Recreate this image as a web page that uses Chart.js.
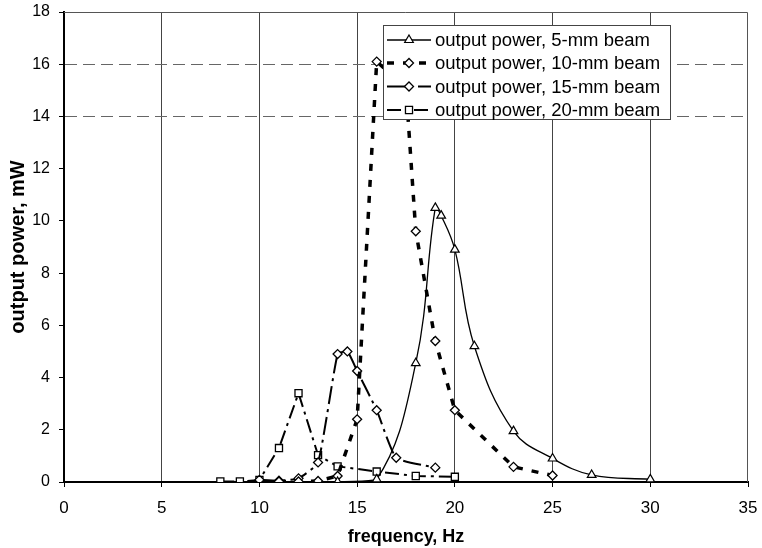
<!DOCTYPE html>
<html><head><meta charset="utf-8">
<script src="https://cdn.jsdelivr.net/npm/chart.js@4/dist/chart.umd.min.js"></script>
<style>html,body{margin:0;padding:0;background:#fff}#wrap{position:relative;width:762px;height:548px}</style>
</head><body><div id="wrap"><canvas id="c" width="762" height="548"></canvas></div>
<script>
const seriesNames = ['output power, 5-mm beam','output power, 10-mm beam','output power, 15-mm beam','output power, 20-mm beam'];
const freq5 = [14,16,18,19,19.3,20,21,23,25,27,30];
const power5 = [0,0.1,4.55,10.5,10.2,8.9,5.2,1.95,0.9,0.27,0.1];
const freq10 = [11,12,13,14,15,16,17.5,18,19,20,23,25];
const power10 = [0.02,0.02,0.04,0.23,2.4,16.1,15.1,9.6,5.4,2.75,0.58,0.25];
const freq15 = [10,11,12,13,14,14.5,15,16,17,19];
const power15 = [0.08,0.05,0.14,0.75,4.9,5.0,4.25,2.75,0.93,0.55];
const freq20 = [8,9,10,11,12,13,14,16,18,20];
const power20 = [0.02,0.02,0.08,1.3,3.4,1.03,0.6,0.4,0.23,0.2];
const xTicks = [0,5,10,15,20,25,30,35];
const yTicks = [0,2,4,6,8,10,12,14,16,18];

const pts = (xs, ys) => xs.map((x,i)=>({x, y: ys[i]}));
const FONT = "'Liberation Sans', Arial, sans-serif";

const datasets = [
  {label: seriesNames[0], data: pts(freq5,power5), borderColor:'#000', borderWidth:1.3, tension:0.4,
   pointStyle:'triangle', pointRadius:5, pointBackgroundColor:'#fff', pointBorderColor:'#000', pointBorderWidth:1.2, borderDash:[]},
  {label: seriesNames[1], data: pts(freq10,power10), borderColor:'#000', borderWidth:3.5, tension:0, borderDash:[7,9],
   pointStyle:'rectRot', pointRadius:4.5, pointBackgroundColor:'#fff', pointBorderColor:'#000', pointBorderWidth:1.3},
  {label: seriesNames[2], data: pts(freq15,power15), borderColor:'#000', borderWidth:2, tension:0.15, borderDash:[18,5,3,5],
   pointStyle:'rectRot', pointRadius:4.5, pointBackgroundColor:'#fff', pointBorderColor:'#000', pointBorderWidth:1.3},
  {label: seriesNames[3], data: pts(freq20,power20), borderColor:'#000', borderWidth:2, tension:0, borderDash:[14,5,3,5],
   pointStyle:'rect', pointRadius:5, pointBackgroundColor:'#fff', pointBorderColor:'#000', pointBorderWidth:1.3}
];

const frame = {
  id:'frame',
  beforeDatasetsDraw(chart){
    const {ctx, chartArea:a} = chart;
    ctx.save();
    ctx.strokeStyle='#555'; ctx.lineWidth=1;
    ctx.beginPath();
    ctx.moveTo(a.left, a.top+0.5); ctx.lineTo(a.right-0.5, a.top+0.5); ctx.lineTo(a.right-0.5, a.bottom);
    ctx.stroke();
    ctx.restore();
  },
  afterDatasetsDraw(chart){
    const ctx = chart.ctx;
    const L=383, T=25, R=670, B=119;
    ctx.save();
    ctx.fillStyle='#fff'; ctx.fillRect(L,T,R-L,B-T);
    ctx.strokeStyle='#444'; ctx.lineWidth=1; ctx.setLineDash([]);
    ctx.strokeRect(L+0.5,T+0.5,R-L,B-T);
    const rows=[40,63,86.5,110];
    chart.data.datasets.forEach((ds,i)=>{
      const y=rows[i];
      ctx.save();
      ctx.strokeStyle='#000'; ctx.lineWidth=ds.borderWidth; ctx.setLineDash(ds.borderDash||[]);
      ctx.beginPath(); ctx.moveTo(387,y); ctx.lineTo(431,y); ctx.stroke();
      ctx.setLineDash([]);
      ctx.fillStyle='#fff'; ctx.strokeStyle='#000'; ctx.lineWidth=ds.pointBorderWidth;
      Chart.helpers.drawPoint(ctx,{pointStyle:ds.pointStyle, radius:ds.pointRadius, rotation:0, borderWidth:ds.pointBorderWidth}, 409, y);
      ctx.restore();
      ctx.fillStyle='#000'; ctx.font='18.5px '+FONT; ctx.textBaseline='middle'; ctx.textAlign='left';
      ctx.fillText(ds.label, 435, y+1);
    });
    ctx.restore();
  }
};

new Chart(document.getElementById('c'), {
  type:'line',
  data:{datasets},
  plugins:[frame],
  options:{
    responsive:false, animation:false, devicePixelRatio:1,
    layout:{padding:{left:0,right:14,top:12,bottom:0}},
    plugins:{legend:{display:false}, tooltip:{enabled:false}},
    scales:{
      x:{type:'linear', min:0, max:35,
        afterBuildTicks(s){ s.ticks = xTicks.map(v=>({value:v})); },
        afterFit(s){ s.height=66; s.paddingLeft=0; s.paddingRight=0; },
        ticks:{font:{family:FONT,size:17}, color:'#000', padding:11, maxRotation:0},
        grid:{color:(c)=> (c.tick && c.tick.value>0 && c.tick.value<35) ? '#444' : 'rgba(0,0,0,0)', lineWidth:1, tickLength:5, tickColor:'#000', drawTicks:true},
        border:{color:'#000', width:2},
        title:{display:true, text:'frequency, Hz', font:{family:FONT,size:18,weight:'bold'}, color:'#000', padding:0}
      },
      y:{type:'linear', min:0, max:18,
        afterBuildTicks(s){ s.ticks = yTicks.map(v=>({value:v})); },
        afterFit(s){ s.width=64; s.paddingTop=0; s.paddingBottom=0; },
        ticks:{font:{family:FONT,size:16}, color:'#000', padding:9},
        grid:{color:(c)=> (c.tick && (c.tick.value===14 || c.tick.value===16)) ? '#666' : 'rgba(0,0,0,0)', lineWidth:1, tickLength:5, tickColor:'#000'},
        border:{color:'#000', width:2, dash:[12,6]},
        title:{display:true, text:'output power, mW', font:{family:FONT,size:20,weight:'bold'}, color:'#000', padding:6}
      }
    }
  }
});
</script></body></html>
